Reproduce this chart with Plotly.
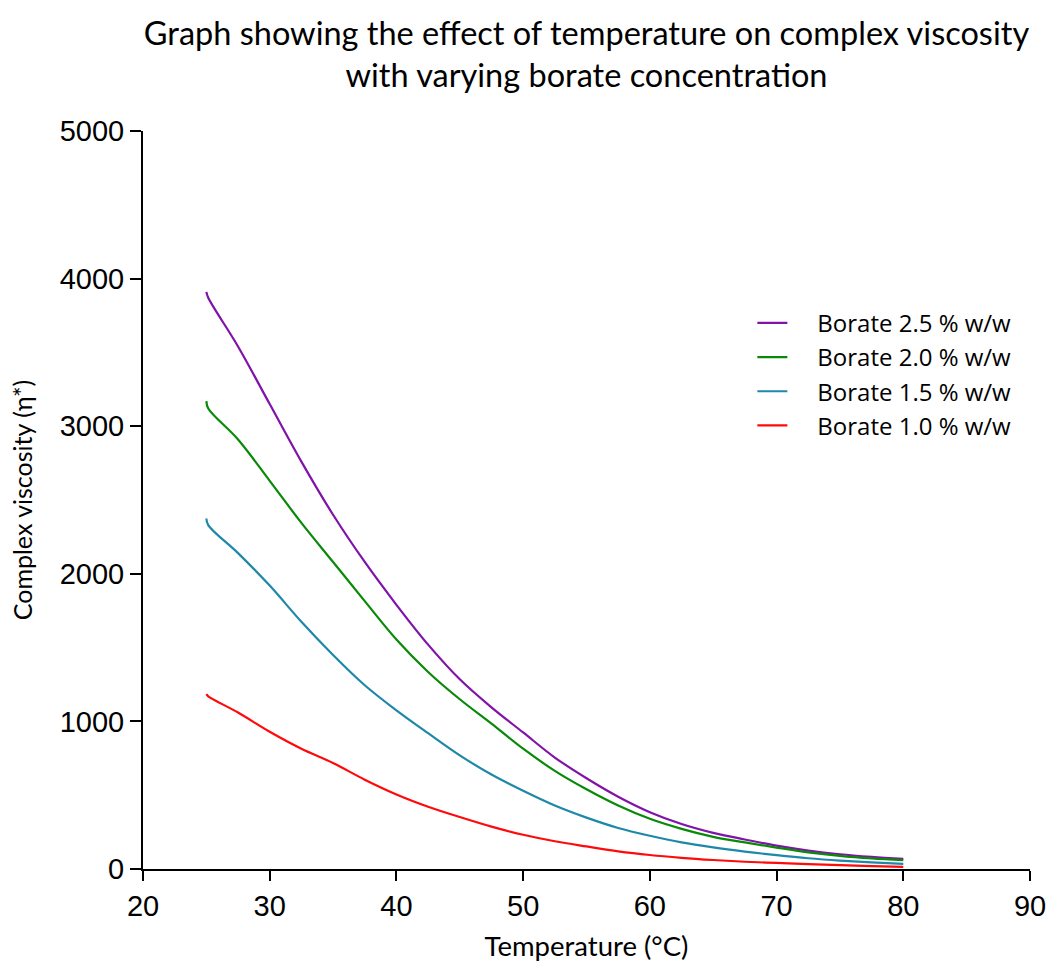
import plotly.graph_objects as go

# Temperature (°C)
temperature = [25.0, 25.15, 27.5, 30, 32.5, 35, 37.5, 40, 42.5, 45, 47.5, 50, 52.5, 55,
               57.5, 60, 62.5, 65, 67.5, 70, 72.5, 75, 77.5, 80]

# Complex viscosity for each borate concentration
borate_25 = [3910, 3870, 3540, 3150, 2760, 2400, 2080, 1790, 1520, 1285, 1095, 925, 755, 615,
             490, 385, 305, 245, 200, 158, 125, 100, 82, 68]
borate_20 = [3170, 3120, 2910, 2630, 2345, 2080, 1815, 1555, 1335, 1150, 985, 815, 665, 540,
             430, 340, 272, 218, 180, 145, 113, 89, 72, 60]
borate_15 = [2375, 2330, 2140, 1920, 1675, 1450, 1245, 1075, 920, 770, 640, 530, 430, 348,
             278, 225, 180, 146, 118, 94, 73, 57, 45, 35]
borate_10 = [1185, 1170, 1060, 930, 815, 718, 605, 505, 422, 352, 287, 232, 188, 153,
             120, 95, 76, 61, 49, 41, 33, 26, 20, 15]

series_names = ["Borate 2.5 % w/w", "Borate 2.0 % w/w", "Borate 1.5 % w/w", "Borate 1.0 % w/w"]
series_values = [borate_25, borate_20, borate_15, borate_10]
series_colors = ["#8013A8", "#088A08", "#1E88A8", "#FF0A0A"]

x_ticks = [20, 30, 40, 50, 60, 70, 80, 90]
y_ticks = [0, 1000, 2000, 3000, 4000, 5000]

fig = go.Figure()
for name, vals, col in zip(series_names, series_values, series_colors):
    fig.add_trace(go.Scatter(
        x=temperature, y=vals, mode="lines",
        name="\u00a0\u00a0\u00a0\u00a0" + name, legendgroup=name,
        line=dict(color=col, width=2.2, shape="spline", smoothing=1.0),
    ))

fig.update_layout(
    width=1050, height=962,
    paper_bgcolor="white", plot_bgcolor="white",
    margin=dict(l=143, r=20, t=131, b=93),
    title=dict(
        text="Graph showing the effect of temperature on complex viscosity<br>with varying borate concentration",
        x=0.5, xref="paper", y=0.953, yref="container", yanchor="top",
        font=dict(family="Lato, Open Sans, sans-serif", size=32.5, color="black"),
    ),
    showlegend=True,
    legend=dict(
        x=0.687, y=0.77, xanchor="left", yanchor="top",
        font=dict(family="Open Sans, Lato, sans-serif", size=24, color="black"),
        tracegroupgap=0, bgcolor="rgba(0,0,0,0)",
    ),
    xaxis=dict(
        range=[20, 90], tickvals=x_ticks, ticktext=[str(v) for v in x_ticks],
        showline=True, linecolor="black", linewidth=2, mirror=False,
        ticks="outside", ticklen=10, tickwidth=2, tickcolor="black",
        showgrid=False, zeroline=False, automargin=False,
        tickfont=dict(family="Liberation Sans, Arial", size=29, color="black"),
        title=dict(text="Temperature (°C)", standoff=20,
                   font=dict(family="Lato, Open Sans, sans-serif", size=27.5, color="black")),
    ),
    yaxis=dict(
        range=[0, 5000], tickvals=y_ticks, ticktext=[str(v) for v in y_ticks],
        showline=True, linecolor="black", linewidth=2, mirror=False,
        ticks="outside", ticklen=11, tickwidth=2, tickcolor="black",
        showgrid=False, zeroline=False, automargin=False,
        tickfont=dict(family="Liberation Sans, Arial", size=29, color="black"),
        title=dict(text="Complex viscosity (η*)", standoff=20,
                   font=dict(family="Lato, Open Sans, sans-serif", size=25, color="black")),
    ),
)

fig.write_html("out.html")
